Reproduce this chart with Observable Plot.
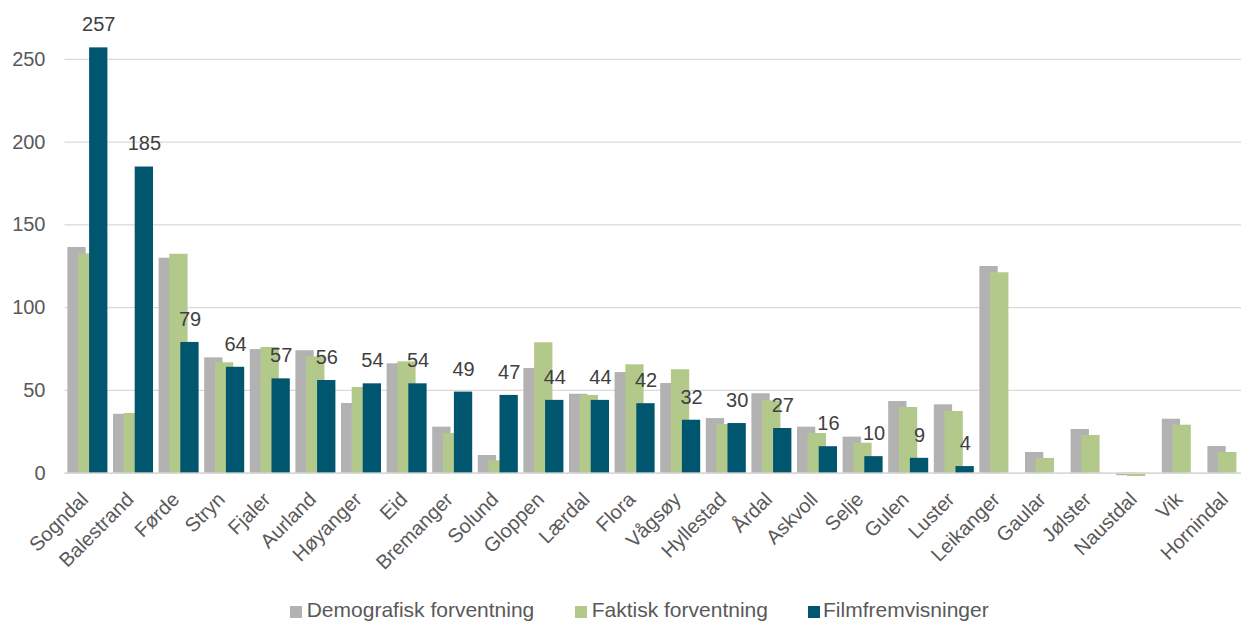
<!DOCTYPE html>
<html>
<head>
<meta charset="utf-8">
<script src="https://cdn.jsdelivr.net/npm/d3@7"></script>
<script src="https://cdn.jsdelivr.net/npm/@observablehq/plot@0.6"></script>
<style>
  body { margin: 0; background: #fff; font-family: "Liberation Sans", Arial, sans-serif; }
  #wrap { position: relative; width: 1241px; height: 622px; overflow: hidden; background: #fff; }
  #chart svg { display: block; }
  .lg-sq { position: absolute; top: 606px; width: 11.5px; height: 11.5px; }
  .lg-tx { position: absolute; top: 597.7px; font-size: 21px; line-height: 24px; color: #595959; white-space: nowrap; }
</style>
</head>
<body>
<div id="wrap">
  <div id="chart"></div>
  <div id="legend"></div>
</div>
<script>
const categories = ["Sogndal","Balestrand","Førde","Stryn","Fjaler","Aurland","Høyanger","Eid","Bremanger","Solund","Gloppen","Lærdal","Flora","Vågsøy","Hyllestad","Årdal","Askvoll","Selje","Gulen","Luster","Leikanger","Gaular","Jølster","Naustdal","Vik","Hornindal"];
const demografisk = [136.4,35.6,129.9,69.7,74.7,74.0,42.1,66.1,27.8,10.7,63.3,47.7,60.8,54.2,33.0,48.0,27.8,21.8,43.3,41.3,124.9,12.5,26.4,-1.5,32.6,16.1];
const faktisk = [132.6,36.1,132.3,66.7,76.0,70.3,51.8,67.3,24.0,7.5,78.8,47.0,65.5,62.5,29.4,43.7,24.0,18.1,39.7,37.3,121.1,8.9,22.8,-2.0,29.0,12.5];
const filmfremvisninger = [257,185,79,64,57,56,54,54,49,47,44,44,42,32,30,27,16,10,9,4,null,null,null,null,null,null];
const seriesNames = ["Demografisk forventning","Faktisk forventning","Filmfremvisninger"];
const seriesColors = ["#b2b2b2","#b3c98b","#00566e"];
const yTicks = [0,50,100,150,200,250];

const rows = vals => categories.map((c, i) => ({c, v: vals[i]})).filter(d => d.v != null);
const bw = 45.6;
const x0 = 64.5;

const chart = Plot.plot({
  width: 1241,
  height: 590,
  marginLeft: x0,
  marginRight: 0,
  marginTop: 0,
  marginBottom: 590 - 472.7,
  style: {fontFamily: '"Liberation Sans", Arial, sans-serif', color: "#595959", background: "white"},
  x: {type: "band", domain: categories, range: [x0, x0 + categories.length * bw], padding: 0, round: false},
  y: {domain: [0, 250], range: [472.7, 58.95]},
  marks: [
    Plot.gridY(yTicks, {stroke: "#d9d9d9", strokeOpacity: 1, strokeWidth: 1.3}),
    Plot.barY(rows(demografisk), {x: "c", y: "v", fill: seriesColors[0], insetLeft: 2.9, insetRight: 24.4}),
    Plot.barY(rows(faktisk), {x: "c", y: "v", fill: seriesColors[1], insetLeft: 13.6, insetRight: 13.7}),
    Plot.barY(rows(filmfremvisninger), {x: "c", y: "v", fill: seriesColors[2], insetLeft: 24.6, insetRight: 2.7}),
    Plot.ruleY([0], {stroke: "#d9d9d9", strokeWidth: 1.6}),
    Plot.text(rows(filmfremvisninger), {x: "c", y: "v", text: "v", dx: 11, dy: -23, lineAnchor: "middle", fontSize: 20, fill: "#404040"}),
    Plot.axisY(yTicks, {tickSize: 0, tickPadding: 19.5, fontSize: 20, label: null}),
    Plot.axisX({tickSize: 0, tickRotate: -45, tickPadding: 14, dx: -3, dy: 9, fontSize: 20, label: null})
  ]
});
document.getElementById("chart").appendChild(chart);

const legend = document.getElementById("legend");
const sqX = [290, 575, 808];
const txX = [306.7, 591.7, 823];
seriesNames.forEach((name, i) => {
  const sq = document.createElement("div");
  sq.className = "lg-sq";
  sq.style.left = sqX[i] + "px";
  sq.style.background = seriesColors[i];
  legend.appendChild(sq);
  const tx = document.createElement("div");
  tx.className = "lg-tx";
  tx.style.left = txX[i] + "px";
  tx.textContent = name;
  legend.appendChild(tx);
});
</script>
</body>
</html>
